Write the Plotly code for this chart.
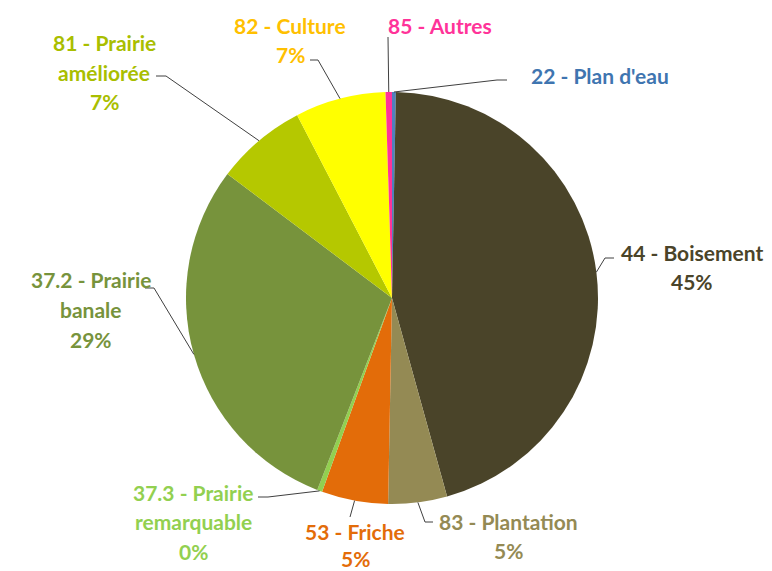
import math
import plotly.graph_objects as go

# ---- data ----
categories = ["22 - Plan d'eau", "44 - Boisement", "83 - Plantation", "53 - Friche",
              "37.3 - Prairie remarquable", "37.2 - Prairie banale",
              "81 - Prairie améliorée", "82 - Culture", "85 - Autres"]
values = [0.3, 45.3, 4.6, 5.2, 0.4, 29.3, 7.1, 7.1, 0.5]
label_lines = [["22 - Plan d'eau"], ["44 - Boisement"], ["83 - Plantation"], ["53 - Friche"],
               ["37.3 - Prairie", "remarquable"], ["37.2 - Prairie", "banale"],
               ["81 - Prairie", "améliorée"], ["82 - Culture"], ["85 - Autres"]]
show_pct = [False, True, True, True, True, True, True, True, False]
slice_colors = ["#4F81BD", "#4A4429", "#948A54", "#E36C09", "#92D050",
                "#77933C", "#B5C800", "#FFFF00", "#FF3399"]
text_colors = ["#3F75B0", "#4A4429", "#948A54", "#E36C09", "#92D050",
               "#77933C", "#A9BE00", "#FFC000", "#FF3399"]

# ---- layout geometry (pixels) ----
W, H = 772, 571
CX, CY, R = 392, 298, 206
# label first-line centre, leader elbow and anchor
label_pos = [(600, 75), (692, 252), (508, 521), (355, 531), (193, 492),
             (91, 280), (104, 43), (290, 25), (440, 25)]
line_space = [29.5, 29.5, 29.5, 27.5, 29.5, 29.5, 29.5, 29.5, 29.5]
elbow = [(497, 80), (605, 258), (425, 522), None, (268, 497),
         (154, 288), (166, 76), (318, 60), None]
anchor = [(507, 80), (614, 258), (433, 522), (350, 517), (258, 497),
          (145, 288), (156, 76), (310, 60), (388, 37)]

fig = go.Figure(go.Pie(
    labels=categories, values=values, sort=False, direction="clockwise",
    rotation=0, textinfo="none", hoverinfo="label+percent",
    marker=dict(colors=slice_colors, line=dict(width=0)),
    domain=dict(x=[(CX - R) / W, (CX + R) / W], y=[(H - CY - R) / H, (H - CY + R) / H]),
    showlegend=False,
))

def px(x, y):
    return x / W, 1 - y / H

total = sum(values)
cum = 0
annotations, shapes = [], []
for i, v in enumerate(values):
    mid = (cum + v / 2) / total * 2 * math.pi
    cum += v
    ex, ey = CX + R * math.sin(mid), CY - R * math.cos(mid)
    lines = list(label_lines[i])
    if show_pct[i]:
        lines.append(f"{round(v / total * 100)}%")
    lx, ly = label_pos[i]
    for k, t in enumerate(lines):
        x, y = px(lx, ly + k * line_space[i])
        annotations.append(dict(x=x, y=y, xref="paper", yref="paper", text=f"<b>{t}</b>",
                                showarrow=False, xanchor="center", yanchor="middle",
                                font=dict(family="Lato", size=21, color=text_colors[i])))
    pts = [(ex, ey)]
    if elbow[i] is not None:
        pts.append(elbow[i])
    pts.append(anchor[i])
    path = "M " + " L ".join(f"{px(a, b)[0]},{px(a, b)[1]}" for a, b in pts)
    shapes.append(dict(type="path", path=path, xref="paper", yref="paper",
                       line=dict(color="#404040", width=1)))

fig.update_layout(width=W, height=H, margin=dict(l=0, r=0, t=0, b=0),
                  paper_bgcolor="white", plot_bgcolor="white",
                  annotations=annotations, shapes=shapes)
fig.write_html("out.html", config={"displayModeBar": False},
               post_script="document.body.style.margin='0';document.body.style.overflow='hidden';")
